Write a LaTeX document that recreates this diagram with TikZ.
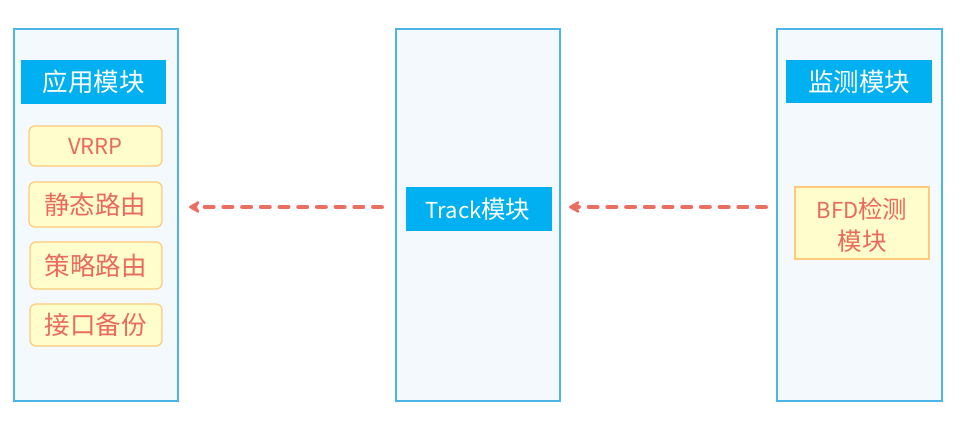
\documentclass[tikz,border=0pt]{standalone}
\usepackage{fontspec}
\setmainfont{Noto Sans CJK SC}
\usetikzlibrary{arrows.meta}
\definecolor{panelline}{HTML}{4DB4E6}
\definecolor{panelfill}{HTML}{F3F9FD}
\definecolor{headfill}{HTML}{00B0F0}
\definecolor{itemfill}{HTML}{FFFDCC}
\definecolor{itemline}{HTML}{FFC97A}
\definecolor{itemtext}{HTML}{EB6A5C}
\definecolor{arrowcol}{HTML}{EB6F60}
\newcommand{\cjkbig}{\fontsize{25.5}{30}\selectfont}
\newcommand{\latsize}{\fontsize{22}{26}\selectfont}
\tikzset{
  panel/.style={draw=panelline, fill=panelfill, line width=1.2pt},
  header/.style={fill=headfill},
  headtext/.style={text=white, inner sep=0pt},
  item/.style={draw=itemline, fill=itemfill, line width=1.2pt, rounded corners=6pt},
  itemtext/.style={text=itemtext, inner sep=0pt},
  bfdbox/.style={draw=itemline, fill=itemfill, line width=1.2pt},
  flow/.style={draw=arrowcol, line width=4pt, line cap=round, dash pattern=on 9pt off 9.7pt, -{Stealth[length=13pt,width=15pt,inset=4pt,round]}},
}
\begin{document}
\begin{tikzpicture}[x=1pt,y=-1pt]
\useasboundingbox (0,0) rectangle (962,425);
% panels
\draw[panel] (14,29) rectangle (178,401);
\draw[panel] (396,29) rectangle (560,401);
\draw[panel] (777,29) rectangle (942,401);
% headers
\path[header] (21,60) rectangle (166,104);
\node[headtext, font=\cjkbig] (app) at (93.5,82) {应用模块};
\path[header] (406,187) rectangle (552,231);
\node[headtext] (track) at (478,209) {{\latsize Track}{\fontsize{24.5}{28}\selectfont 模块}};
\path[header] (786,60) rectangle (932,103);
\node[headtext, font=\cjkbig] (mon) at (859,81.5) {监测模块};
% items
\draw[item] (29,126) rectangle (162,166);
\node[itemtext, font=\latsize] (vrrp) at (95.5,146) {VRRP};
\draw[item] (29,182) rectangle (162,227);
\node[itemtext, font=\cjkbig] (static) at (95.5,204.5) {静态路由};
\draw[item] (30,242) rectangle (162,289);
\node[itemtext, font=\cjkbig] (policy) at (96,265.5) {策略路由};
\draw[item] (30,304) rectangle (162,346);
\node[itemtext, font=\cjkbig] (ifbak) at (96,325) {接口备份};
\draw[bfdbox] (795,187) rectangle (929,259);
\node[itemtext, align=center, font=\fontsize{24.5}{32}\selectfont] (bfd) at (862,225) {{\latsize BFD}检测\\模块};
% arrows
\coordinate (a1s) at (382,207);
\coordinate (a1e) at (189,207);
\coordinate (a2s) at (766,207);
\coordinate (a2e) at (569,207);
\draw[flow] (a1s) -- (a1e);
\draw[flow] (a2s) -- (a2e);
\end{tikzpicture}
\end{document}
